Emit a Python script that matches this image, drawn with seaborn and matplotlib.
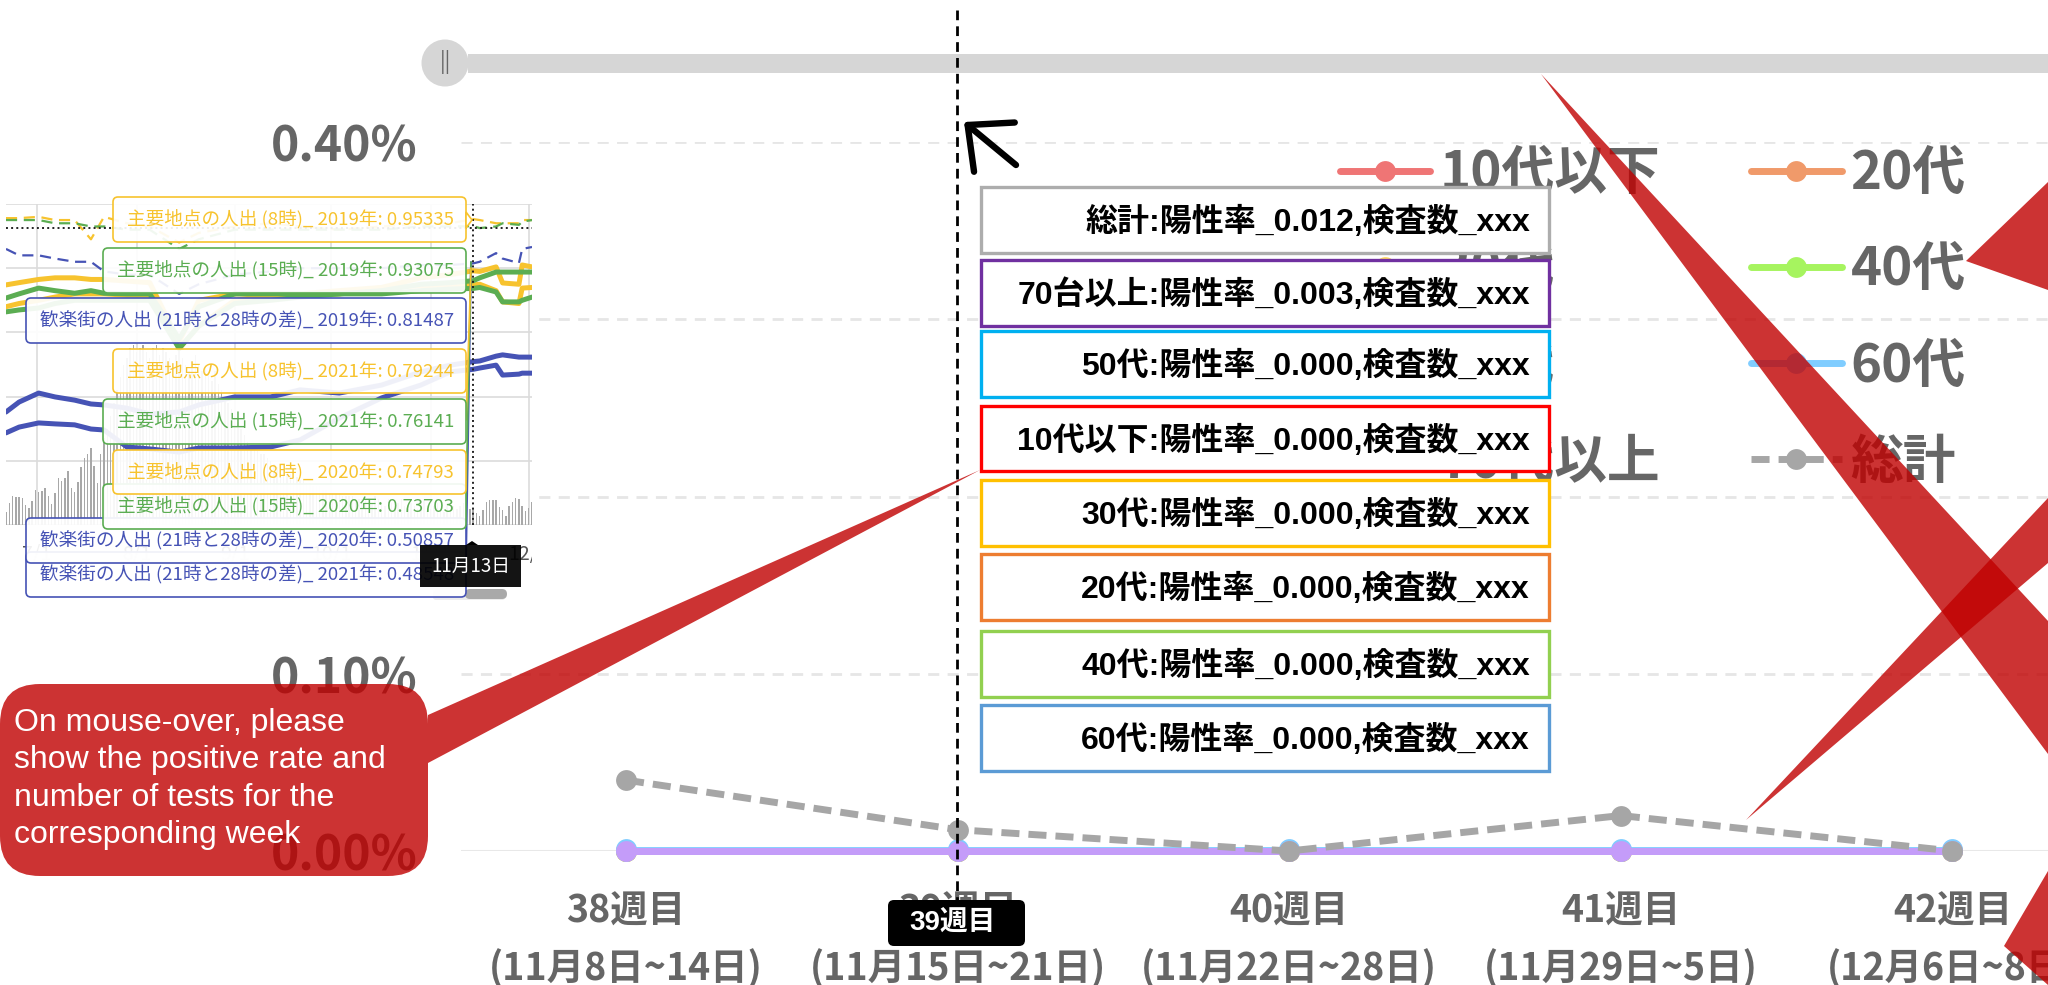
import numpy as np
import matplotlib
matplotlib.use('Agg')
import matplotlib.pyplot as plt
import seaborn as sns
from matplotlib.font_manager import FontProperties
from matplotlib.patches import Rectangle, FancyBboxPatch, Polygon, Circle, PathPatch
from matplotlib.path import Path

# main chart
weeks = ['38週目\n(11月8日~14日)', '39週目\n(11月15日~21日)', '40週目\n(11月22日~28日)',
         '41週目\n(11月29日~5日)', '42週目\n(12月6日~8日)']
week_pos = [0, 1, 2, 3, 4]
rate_total = [0.040, 0.012, 0.0, 0.020, 0.0]
rate_zero = [0.0, 0.0, 0.0, 0.0, 0.0]
rate_60 = [0.0012, 0.0012, 0.0012, 0.0012, 0.0012]
series_names = ['10代以下', '20代', '30代', '40代', '50代', '60代', '70代以上']
series_colors = ['#EF7575', '#F09A6A', '#FFD966', '#A6F45F', '#9DC3E6', '#80CDFF', '#C49CF9']
series_vals = [rate_zero, rate_zero, rate_zero, rate_zero, rate_zero, rate_60, rate_zero]
legend_order = ['10代以下', '30代', '50代', '70代以上', '20代', '40代', '60代', '総計']
y_ticks = [0.0, 0.1, 0.2, 0.3, 0.4]
y_labels = ['0.00%', '0.10%', '0.20%', '0.30%', '0.40%']

# hover boxes of the main chart
tip_labels = ['総計:陽性率_0.012,検査数_xxx', '70台以上:陽性率_0.003,検査数_xxx',
              '50代:陽性率_0.000,検査数_xxx', '10代以下:陽性率_0.000,検査数_xxx',
              '30代:陽性率_0.000,検査数_xxx', '20代:陽性率_0.000,検査数_xxx',
              '40代:陽性率_0.000,検査数_xxx', '60代:陽性率_0.000,検査数_xxx']
tip_colors = ['#ADADAD', '#7030A0', '#00B0F0', '#FF0000', '#FFC000', '#ED7D31', '#92D050', '#5B9BD5']
tip_tops = [187, 260, 331, 406, 480, 554, 631, 705]
tip_bottoms = [253, 326, 397, 471, 546, 620, 697, 771]

# small chart pasted on the left, knots
knot_days = [0, 4, 10, 15, 21, 26, 30, 37, 44, 53, 59, 70, 81, 90, 102, 115, 127, 136, 143, 145, 150, 152, 157, 158, 161]
yellow_2019 = [.956, .956, .96, .95, .95, .89, .96, .94, .93, .88, .91, .93, .94, .93, .92, .93, .94, .94, .953, .95, .94, .94, .94, .95, .95]
green_2019 = [.95, .95, .95, .94, .94, .93, .93, .92, .92, .86, .89, .92, .92, .92, .92, .92, .93, .93, .931, .925, .93, .94, .935, .945, .95]
blue_2019 = [.86, .84, .84, .83, .82, .82, .79, .78, .78, .72, .75, .78, .79, .80, .80, .80, .81, .81, .815, .82, .847, .83, .816, .86, .866]
yellow_2020 = [.748, .755, .765, .77, .77, .765, .765, .76, .755, .57, .70, .72, .72, .72, .73, .74, .745, .748, .748, .75, .73, .695, .69, .738, .74]
yellow_2021 = [.68, .69, .70, .71, .72, .72, .72, .716, .716, .55, .62, .70, .716, .716, .72, .74, .77, .78, .792, .79, .804, .754, .75, .81, .804]
green_2020 = [.707, .72, .738, .73, .722, .73, .722, .72, .72, .58, .68, .72, .72, .72, .72, .72, .73, .735, .737, .74, .726, .695, .695, .70, .71]
green_2021 = [.664, .67, .676, .69, .70, .70, .70, .70, .70, .55, .62, .69, .70, .71, .72, .73, .75, .755, .761, .77, .788, .788, .788, .788, .788]
blue_2020 = [.352, .383, .411, .399, .389, .377, .374, .364, .346, .352, .374, .399, .399, .421, .411, .436, .477, .498, .509, .511, .526, .53, .523, .523, .523]
blue_2021 = [.287, .305, .318, .315, .312, .299, .296, .243, .237, .227, .24, .24, .243, .265, .333, .396, .436, .477, .485, .489, .498, .467, .47, .473, .473]
bar_vals = [.04, .068, .091, .088, .086, .083, .062, .052, .075, .109, .104, .107, .116, .091, .064, .099, .145, .137, .147, .168,
            .114, .102, .133, .182, .208, .221, .241, .185, .130, .220, .27, .30, .34, .38, .42, .46, .50, .52, .55, .56,
            .54, .55, .56, .54, .52, .55, .56, .53, .55, .54, .52, .50, .53, .55, .52, .50, .48, .51, .53, .50,
            .48, .50, .47, .45, .48, .44, .42, .40, .38, .36, .34, .32, .30, .28, .26, .25, .24, .23, .22, .22,
            .21, .20, .19, .18, .18, .17, .16, .16, .15, .15, .14, .14, .13, .13, .12, .12, .12, .11, .11, .10,
            .10, .10, .10, .09, .09, .09, .09, .08, .08, .08, .08, .08, .07, .09, .08, .07, .06, .08, .07, .05,
            .07, .08, .06, .05, .07, .06, .05, .07, .08, .06, .05, .06, .07, .05, .04, .06, .07, .06, .05, .06,
            .07, .06, .05, .054, .036, .029, .047, .073, .078, .078, .078, .057, .047, .029, .06, .073, .083, .081, .06, .044,
            .052, .073]
inset_tick_days = [9.5, 40, 70, 99.5, 130, 160]
inset_tick_labels = ['7/1', '8/1', '9/1', '10/1', '11/1', '12/1']
inset_labels = ['主要地点の人出 (8時)_ 2019年: 0.95335', '主要地点の人出 (15時)_ 2019年: 0.93075',
                '歓楽街の人出 (21時と28時の差)_ 2019年: 0.81487', '主要地点の人出 (8時)_ 2021年: 0.79244',
                '主要地点の人出 (15時)_ 2021年: 0.76141', '主要地点の人出 (8時)_ 2020年: 0.74793',
                '主要地点の人出 (15時)_ 2020年: 0.73703', '歓楽街の人出 (21時と28時の差)_ 2020年: 0.50857',
                '歓楽街の人出 (21時と28時の差)_ 2021年: 0.48548']
YEL, GRN, BLU = '#F7C32E', '#5BAD52', '#4653B5'
inset_colors = [YEL, GRN, BLU, YEL, GRN, YEL, GRN, BLU, BLU]
inset_lefts = [113, 103, 26, 113, 103, 113, 103, 26, 26]
inset_tops = [197, 248, 298, 349, 399, 450, 484, 518, 552]
inset_bottoms = [242, 293, 343, 393, 444, 494, 529, 563, 597]

note = 'On mouse-over, please\nshow the positive rate and\nnumber of tests for the\ncorresponding week'

sns.set_theme(style='white')
plt.rcParams['font.family'] = ['Noto Sans CJK JP', 'DejaVu Sans']
W, H = 2048, 985
GRAY = '#666666'
RED = '#C00000'
bold_cjk = FontProperties(family=['Noto Sans CJK JP'], weight='bold', size=38)
tip_family = ['Liberation Sans', 'Noto Sans CJK JP']

fig = plt.figure(figsize=(W / 100, H / 100), dpi=100, facecolor='white')

# --- main chart ---
ax = fig.add_axes([461 / W, (H - 851) / H, (W - 461) / W, (851 - 142) / H], zorder=1)
for name, color, vals in zip(series_names, series_colors, series_vals):
    # 60代 sits a hair higher, thinner line so only its dots peek out above the purple one
    sns.lineplot(x=week_pos, y=vals, color=color, lw=3.5 if name == '60代' else 5, marker='o', markersize=15,
                 markeredgewidth=0, label=name, clip_on=False, ax=ax, zorder=3)
ax.lines[-1].set_zorder(3.5)
sns.lineplot(x=week_pos, y=rate_total, color='#A6A6A6', lw=5, marker='o', markersize=15, markeredgewidth=0,
             linestyle=(0, (2.6, 1.3)), label='総計', clip_on=False, ax=ax, zorder=4)
ax.set_xlim(-0.4976, 4.288)
ax.set_ylim(0, 0.40)
ax.set_yticks(y_ticks, y_labels)
ax.set_xticks(week_pos, weeks)
ax.set_xlabel('')
ax.set_ylabel('')
ax.yaxis.grid(True, color='#E6E6E6', lw=2, linestyle=(0, (4, 3)))
ax.axhline(0, color='#E8E8E8', lw=2.2, zorder=1)
sns.despine(ax=ax, left=True, bottom=True)
ax.tick_params(axis='both', length=0)
ax.tick_params(axis='y', pad=31)
ax.tick_params(axis='x', pad=29)
for t in ax.get_yticklabels():
    t.set_fontproperties(FontProperties(family=['Noto Sans CJK JP'], weight='bold', size=34.5))
    t.set_color(GRAY)
for t in ax.get_xticklabels():
    t.set_fontproperties(FontProperties(family=['Noto Sans CJK JP'], weight='bold', size=27))
    t.set_color(GRAY)
    t.set_linespacing(1.58)

handles, labels = ax.get_legend_handles_labels()
by_name = dict(zip(labels, handles))
leg = ax.legend([by_name[n] for n in legend_order], legend_order, ncol=2, frameon=False, prop=bold_cjk,
                loc='upper left', bbox_to_anchor=(1340 / W, (H - 147) / H), bbox_transform=fig.transFigure,
                handlelength=1.71, handletextpad=0.17, labelspacing=0.82, columnspacing=1.73, borderpad=0, borderaxespad=0)
for t in leg.get_texts():
    t.set_color(GRAY)
for h in leg.get_lines():
    h.set_linewidth(5)

# --- pasted small chart ---
axi = fig.add_axes([6 / W, (H - 525) / H, 526 / W, 321 / H], zorder=2, facecolor='white')
bar_days = np.arange(len(bar_vals))
sns.barplot(x=bar_days, y=bar_vals, native_scale=True, color='#A8A8A8', width=0.45, saturation=1, linewidth=0, ax=axi, zorder=1)
thin = dict(lw=1.6, linestyle=(0, (5, 3)), ax=axi, zorder=3)
sns.lineplot(x=knot_days, y=yellow_2019, color=YEL, **thin)
sns.lineplot(x=knot_days, y=green_2019, color=GRN, **thin)
sns.lineplot(x=knot_days, y=blue_2019, color=BLU, **thin)
for vals, c in [(yellow_2021, YEL), (yellow_2020, YEL), (green_2021, GRN), (green_2020, GRN), (blue_2020, BLU), (blue_2021, BLU)]:
    sns.lineplot(x=knot_days, y=vals, color=c, lw=3.6, ax=axi, zorder=4)
axi.set_xlim(0, 161)
axi.set_ylim(0, 1)
axi.set_yticks([0, .2, .4, .6, .8, 1], [])
axi.set_xticks(inset_tick_days, inset_tick_labels)
axi.grid(True, color='#DCDCDC', lw=1.2)
axi.set_axisbelow(True)
axi.tick_params(axis='both', length=0)
axi.tick_params(axis='x', labelsize=14, labelcolor='#555555', pad=14)
axi.set_xlabel('')
axi.set_ylabel('')
for s in axi.spines.values():
    s.set_visible(False)
axi.axvline(143, color='#222222', lw=1.4, linestyle=':', zorder=6)
axi.axhline(0.925, color='#222222', lw=1.4, linestyle=':', zorder=6)

# --- everything on top, in picture pixels ---
top = fig.add_axes([0, 0, 1, 1], zorder=5)
top.set_xlim(0, W)
top.set_ylim(H, 0)
top.axis('off')

# cover what spills out on the right of the small chart
top.add_patch(Rectangle((532, 535), 18, 40, fc='white', ec='none', zorder=1))

# slider
top.add_patch(Rectangle((468, 54), W - 468, 18.5, fc='#D6D6D6', ec='none', zorder=2))
top.add_patch(Circle((445, 63), 23.5, fc='#D6D6D6', ec='none', zorder=2))
top.text(445, 62, '||', ha='center', va='center', fontsize=15, color='#666666', zorder=3)

# crosshair and arrow
top.plot([957, 957], [10, 905], color='black', lw=2, linestyle=(0, (3.5, 2.2)), zorder=3)
top.annotate('', xy=(964, 122), xytext=(1016, 165), zorder=3,
             arrowprops=dict(arrowstyle='->,head_length=1.25,head_width=1.15', mutation_scale=20, lw=4.6,
                             color='black', shrinkA=0, shrinkB=0))

# scrollbar under the small chart
top.add_patch(FancyBboxPatch((433, 590), 72, 10, boxstyle='round,pad=0,rounding_size=3', fc='#ECECEC', ec='none', zorder=2))
top.add_patch(FancyBboxPatch((465, 589), 42, 10, boxstyle='round,pad=0,rounding_size=5', fc='#A9A9A9', ec='none', zorder=2))

# leader lines from the small chart boxes
top.plot([466, 471], [560, 262], color=BLU, lw=1.4, zorder=3)
top.plot([466, 471], [500, 262], color=GRN, lw=1.2, zorder=3)
top.plot([466, 471], [420, 268], color=YEL, lw=1.2, zorder=3)

# boxes of the small chart, last ones lie at the bottom
for i in reversed(range(len(inset_labels))):
    z = 4 + (len(inset_labels) - i) * 0.01
    x0, y0, y1, c = inset_lefts[i], inset_tops[i], inset_bottoms[i], inset_colors[i]
    top.add_patch(FancyBboxPatch((x0, y0), 466 - x0, y1 - y0, boxstyle='round,pad=0,rounding_size=5',
                                 fc=(1, 1, 1, 0.92), ec=c, lw=1.2, zorder=z))
    top.text(454, (y0 + y1) / 2 + 0.5, inset_labels[i], ha='right', va='center', color=c, fontsize=13.4, zorder=z)
top.add_patch(Polygon([(466, 212), (472, 220), (466, 228)], fc='white', ec=YEL, lw=1.2, zorder=4.2))

# black date label
top.add_patch(Rectangle((420, 545), 101, 42, fc='black', ec='none', alpha=0.92, zorder=5))
top.add_patch(Polygon([(466, 545), (472, 541), (478, 545)], fc='black', ec='none', zorder=5))
top.text(470.5, 566, '11月13日', ha='center', va='center', color='white', fontsize=13.5, zorder=5.1)

# hover boxes
for lab, c, y0, y1 in zip(tip_labels, tip_colors, tip_tops, tip_bottoms):
    top.add_patch(Rectangle((981, y0), 568, y1 - y0, fc='white', ec=c, lw=2.4, zorder=6))
    top.text(1530, (y0 + y1) / 2 + 2, lab, ha='right', va='center', color='black', fontsize=23,
             family=tip_family, weight='bold', zorder=6.1)

# week flag
top.add_patch(FancyBboxPatch((888, 900), 137, 46, boxstyle='round,pad=0,rounding_size=6', fc='black', ec='none', zorder=6))
top.text(953, 923, '39週目', ha='center', va='center', color='white', fontsize=20,
         family=tip_family, weight='bold', zorder=6.1)

# red callout with its tail, one path so it does not darken itself
bx, by0, by1, r = 428, 684, 876, 40
verts = [(r, by0), (bx - r, by0), (bx, by0), (bx, by0 + r), (bx, 715), (980, 470), (bx, 763), (bx, by1 - r),
         (bx, by1), (bx - r, by1), (r, by1), (0, by1), (0, by1 - r), (0, by0 + r), (0, by0), (r, by0)]
codes = [Path.MOVETO, Path.LINETO, Path.CURVE3, Path.CURVE3, Path.LINETO, Path.LINETO, Path.LINETO, Path.LINETO,
         Path.CURVE3, Path.CURVE3, Path.LINETO, Path.CURVE3, Path.CURVE3, Path.LINETO, Path.CURVE3, Path.CURVE3]
top.add_patch(PathPatch(Path(verts, codes), fc=RED, ec='none', alpha=0.8, zorder=5.5))
top.text(14, 779, note, ha='left', va='center', color='white', fontsize=23, family=['Liberation Sans'],
         linespacing=1.31, zorder=5.6)

# red wedges coming in from the right
wedges = [[(1541, 74), (2048, 621), (2048, 754)],
          [(1746, 820), (2048, 498), (2048, 563)],
          [(1966, 261), (2048, 182), (2048, 290)],
          [(2004, 946), (2048, 871), (2048, 985)]]
for w in wedges:
    top.add_patch(Polygon(w, fc=RED, ec='none', alpha=0.8, zorder=7))

fig.savefig('out.png', dpi=100)
